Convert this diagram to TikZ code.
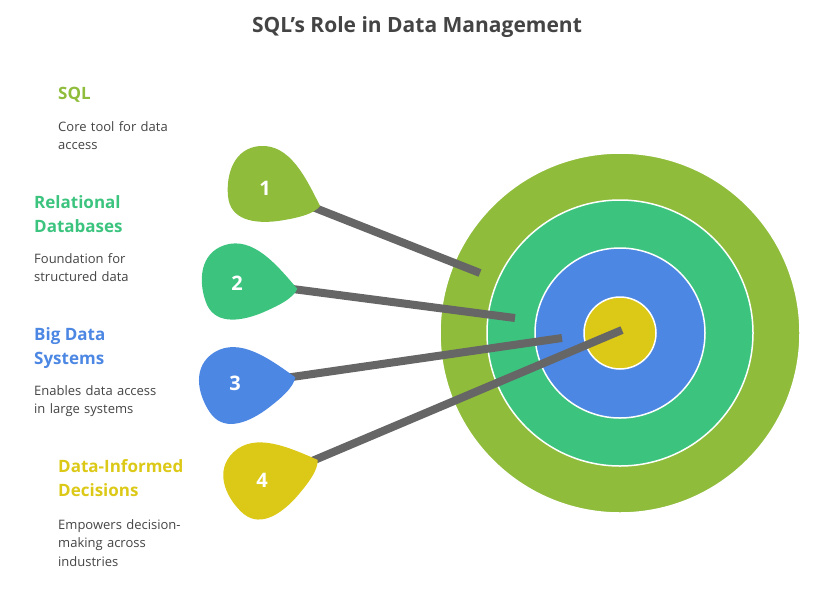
\documentclass[tikz,border=0pt]{standalone}
\usepackage{fontspec}
\setmainfont{Open Sans}
\definecolor{cSql}{HTML}{8FBC3A}
\definecolor{cRel}{HTML}{3CC47F}
\definecolor{cBig}{HTML}{4C87E3}
\definecolor{cDec}{HTML}{DCC917}
\definecolor{cShaft}{HTML}{666666}
\definecolor{cText}{HTML}{444444}
\tikzset{
  ring/.style={draw=white, line width=1.5pt},
  shaft/.style={draw=cShaft, line width=8pt},
  head/.style={anchor=north west, font=\bfseries\fontsize{17}{24}\selectfont, align=left},
  body/.style={anchor=north west, text=cText, font=\fontsize{13}{18.5}\selectfont, align=left, text width=160pt, inner sep=0pt},
  num/.style={text=white, font=\bfseries\fontsize{20}{22}\selectfont}
}
\newcommand{\dartpath}{(52,20) .. controls (38,-8) and (22,-42) .. (-8,-40) .. controls (-34,-38) and (-42,-12) .. (-40,10) .. controls (-38,34) and (-14,38) .. (10,35) .. controls (30,32) and (46,28) .. cycle}
\begin{document}
\begin{tikzpicture}[x=1pt,y=-1pt]
  \useasboundingbox (0,0) rectangle (835,595);
  % title
  \node[text=cText, font=\bfseries\fontsize{21}{24}\selectfont] (title) at (417,27) {SQL's Role in Data Management};
  % target
  \fill[cSql, ring] (620,333) circle (180);
  \fill[cRel, ring] (620,333) circle (133);
  \fill[cBig, ring] (620,333) circle (85);
  \fill[cDec, ring] (620,333) circle (36);
  \coordinate (e1) at (480,273);
  \coordinate (e2) at (515,318);
  \coordinate (e3) at (562,338);
  \coordinate (e4) at (622,330);
  % shafts
  \coordinate (s1) at (305,204);
  \coordinate (s2) at (285,288);
  \coordinate (s3) at (285,378);
  \coordinate (s4) at (305,464);
  \draw[shaft] (s1) -- (e1);
  \draw[shaft] (s2) -- (e2);
  \draw[shaft] (s3) -- (e3);
  \draw[shaft] (s4) -- (e4);
  % darts
  \fill[cSql, shift={(268,186)}, rotate=0] \dartpath;
  \fill[cRel, shift={(242,282)}, rotate=14] \dartpath;
  \fill[cBig, shift={(240,384)}, rotate=28] \dartpath;
  \fill[cDec, shift={(265,478)}, rotate=40] \dartpath;
  \node[num] (n1) at (265,188) {1};
  \node[num] (n2) at (237,283) {2};
  \node[num] (n3) at (235,383) {3};
  \node[num] (n4) at (262,480) {4};
  % labels
  \node[head, text=cSql, inner sep=0pt] (h1) at (58,87) {SQL};
  \node[body] (b1) at (58,121) {Core tool for data\\access};
  \node[head, text=cRel, inner sep=0pt] (h2) at (34,195) {Relational\\Databases};
  \node[body] (b2) at (34,253) {Foundation for\\structured data};
  \node[head, text=cBig, inner sep=0pt] (h3) at (34,327) {Big Data\\Systems};
  \node[body] (b3) at (34,385) {Enables data access\\in large systems};
  \node[head, text=cDec, inner sep=0pt] (h4) at (58,459) {Data-Informed\\Decisions};
  \node[body] (b4) at (58,519) {Empowers decision-\\making across\\industries};
\end{tikzpicture}
\end{document}
